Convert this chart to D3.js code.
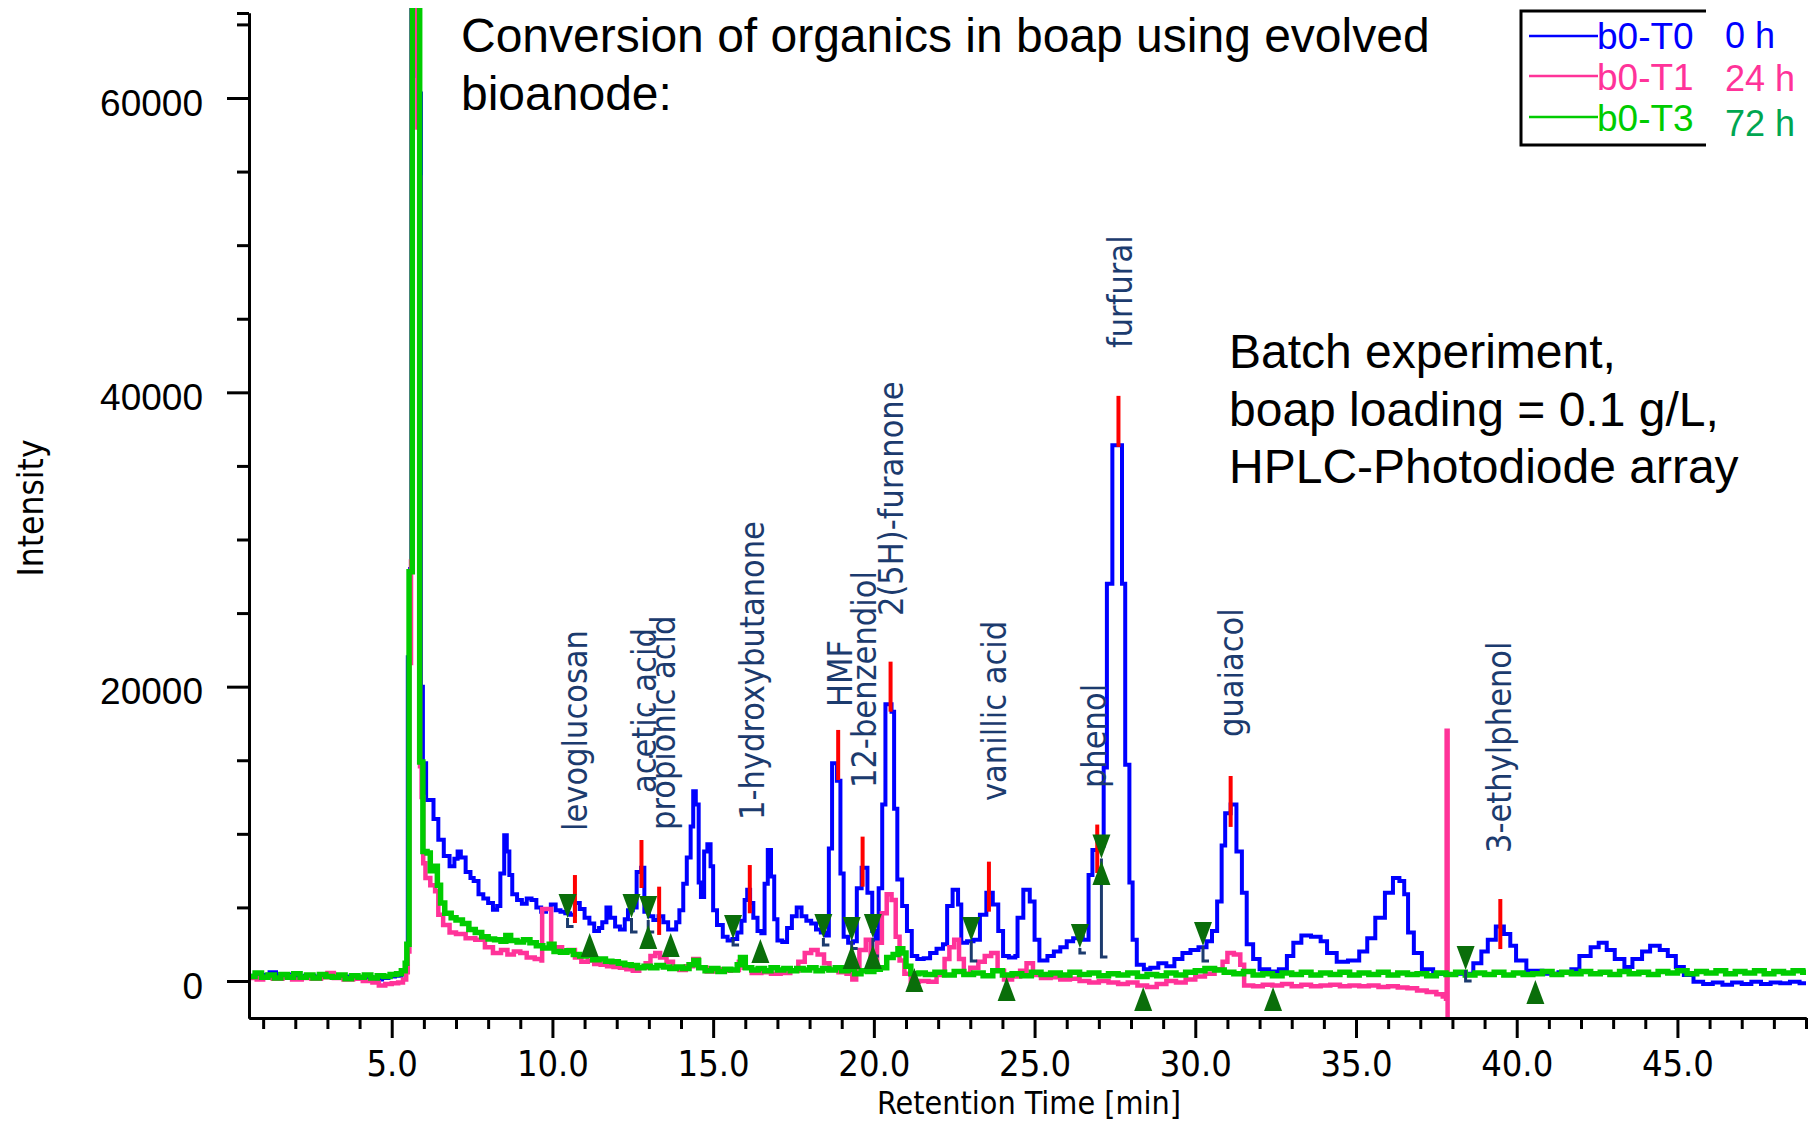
<!DOCTYPE html>
<html><head><meta charset="utf-8">
<script src="https://cdn.jsdelivr.net/npm/d3@7"></script>
<style>
html,body{margin:0;padding:0;background:#fff;}
svg{display:block;}
</style></head><body>
<svg id="chart" width="1810" height="1122"></svg>
<script>
// ---------------- DATA ----------------
const seriesNames = ["b0-T0", "b0-T1", "b0-T3"];
const durationLabels = ["0 h", "24 h", "72 h"];
const xTickValues = [5, 10, 15, 20, 25, 30, 35, 40, 45];
const xTickLabels = ["5.0", "10.0", "15.0", "20.0", "25.0", "30.0", "35.0", "40.0", "45.0"];
const yTickValues = [0, 20000, 40000, 60000];
const yTickLabels = ["0", "20000", "40000", "60000"];
const yMinorTicks = [5000, 10000, 15000, 25000, 30000, 35000, 45000, 50000, 55000, 65000];
const xDomain = [0.56, 49.0];
const yDomain = [-2514, 65775];

// b0-T0 (0 h) trace: [retention time, intensity]
const traceT0 = [
[0.56,350],[0.8,250],[1.0,420],[1.2,600],[1.4,380],[1.6,300],[1.8,450],[2.0,250],[2.3,350],[2.6,280],[2.9,400],[3.2,200],[3.5,300],[3.8,150],[4.1,250],[4.4,100],[4.7,200],[4.9,300],[5.1,350],[5.3,500],[5.42,900],[5.47,1500],
[5.50,22000],[5.57,28000],[5.61,67000],[5.73,63700],[5.80,61500],[5.86,60300],[5.91,20000],[5.97,14800],[6.07,12300],[6.30,11000],[6.45,9600],[6.62,8500],[6.80,7800],[6.95,8300],[7.05,8800],[7.15,8400],[7.30,7400],[7.45,7000],[7.55,6800],[7.70,5900],[7.85,5600],[8.00,5300],[8.15,4850],[8.28,5100],[8.38,7300],[8.50,9900],[8.58,8800],[8.66,7200],[8.75,5900],[8.90,5500],[9.05,5250],[9.20,5600],[9.35,5500],[9.50,5000],[9.65,4700],[9.80,4900],[9.95,5200],[10.10,4800],[10.25,4700],[10.40,4600],[10.55,4500],[10.70,5300],[10.85,4900],[11.00,4300],[11.15,3900],[11.30,3400],[11.45,3600],[11.55,4000],[11.68,5000],[11.80,4300],[11.95,3700],[12.10,3500],[12.25,4200],[12.35,4800],[12.50,5000],[12.62,7400],[12.76,7700],[12.86,4700],[13.00,4400],[13.14,4150],[13.30,4400],[13.45,4000],[13.60,3500],[13.75,3500],[13.85,4000],[13.95,4800],[14.07,6600],[14.18,8400],[14.30,10500],[14.38,12900],[14.46,12000],[14.55,6700],[14.62,5700],[14.72,8800],[14.82,9300],[14.92,7800],[15.00,4800],[15.12,3800],[15.30,3000],[15.45,2750],[15.60,2850],[15.75,3300],[15.88,4100],[15.98,5500],[16.06,6200],[16.15,5300],[16.25,4300],[16.38,3400],[16.50,3250],[16.60,6600],[16.70,8900],[16.80,7100],[16.90,4200],[17.00,2750],[17.15,2650],[17.30,3600],[17.45,4400],[17.60,5000],[17.75,4400],[17.90,4100],[18.05,3900],[18.20,3500],[18.35,3300],[18.50,3100],[18.60,9000],[18.70,14800],[18.85,13600],[18.96,7300],[19.06,3000],[19.20,2600],[19.35,2700],[19.47,6300],[19.62,7700],[19.80,6000],[19.95,3400],[20.05,2800],[20.15,6300],[20.26,12000],[20.36,18800],[20.55,18300],[20.63,11700],[20.73,6900],[20.88,5100],[21.03,3400],[21.18,1700],[21.35,1500],[21.55,1550],[21.75,1900],[21.95,2200],[22.15,2500],[22.28,5100],[22.45,6200],[22.62,5200],[22.72,2600],[22.90,2700],[23.10,2800],[23.30,4500],[23.50,6000],[23.70,5200],[23.87,3400],[24.02,1700],[24.20,1600],[24.40,1700],[24.47,4300],[24.65,6200],[24.85,5400],[25.00,2800],[25.15,1400],[25.40,1700],[25.60,2000],[25.80,2300],[26.00,2700],[26.20,2900],[26.35,3000],[26.50,2800],[26.68,7200],[26.80,8900],[27.00,9200],[27.15,14500],[27.25,27000],[27.42,36400],[27.72,27000],[27.82,14700],[27.95,6700],[28.05,2800],[28.18,1100],[28.40,800],[28.60,900],[28.85,1200],[29.10,1000],[29.35,1500],[29.60,1900],[29.85,2100],[30.10,2300],[30.35,2700],[30.52,3400],[30.68,5400],[30.82,9200],[30.93,11400],[31.10,12000],[31.28,8800],[31.45,6000],[31.60,2500],[31.80,1500],[32.00,800],[32.30,650],[32.60,800],[32.85,1700],[33.05,2600],[33.30,3100],[33.60,3000],[33.90,2700],[34.10,1900],[34.40,1300],[34.75,1400],[35.10,2000],[35.35,2900],[35.60,4300],[35.90,6000],[36.15,7000],[36.35,6800],[36.50,5900],[36.62,3300],[36.80,1900],[37.05,800],[37.40,500],[37.80,400],[38.10,500],[38.40,500],[38.65,1200],[38.90,2000],[39.10,2800],[39.35,3700],[39.60,3200],[39.80,2400],[39.98,1400],[40.30,700],[40.80,500],[41.30,600],[41.70,800],[41.95,1700],[42.30,2300],[42.55,2600],[42.80,2100],[43.05,1500],[43.35,950],[43.60,1500],[43.90,2000],[44.15,2400],[44.45,2100],[44.70,1700],[44.95,950],[45.20,400],[45.50,-50],[45.80,-200],[46.10,-100],[46.40,-250],[46.70,-100],[47.00,-200],[47.30,-50],[47.60,-200],[47.90,-100],[48.20,-150],[48.50,-50],[48.80,-150],[49.0,-100]
];

// b0-T1 (24 h) trace
const traceT1 = [
[0.56,200],[0.8,100],[1.0,250],[1.3,150],[1.6,300],[1.9,100],[2.2,200],[2.5,150],[2.8,250],[3.0,550],[3.2,200],[3.5,100],[3.8,150],[4.1,0],[4.4,-100],[4.6,-300],[4.8,-200],[5.0,-150],[5.2,-100],[5.35,100],[5.45,600],
[5.50,2000],[5.55,21600],[5.60,28500],[5.63,67000],[5.72,62000],[5.80,58000],[5.86,54600],[5.88,14600],[5.93,12500],[5.98,8000],[6.05,7000],[6.20,6500],[6.35,6100],[6.45,4500],[6.60,3800],[6.80,3300],[7.00,3200],[7.30,2900],[7.60,2800],[7.90,2300],[8.15,1900],[8.40,2100],[8.60,1800],[8.80,2000],[9.00,1900],[9.20,1600],[9.45,1500],[9.66,1400],[9.68,4900],[9.96,2300],[10.10,2300],[10.30,2000],[10.50,2100],[10.70,1600],[10.90,1300],[11.10,1400],[11.30,1150],[11.50,1100],[11.70,1000],[11.90,950],[12.10,900],[12.30,800],[12.50,700],[12.70,900],[12.90,1200],[13.05,1700],[13.20,1900],[13.35,1600],[13.55,1300],[13.75,900],[13.95,750],[14.15,1000],[14.38,1500],[14.55,900],[14.80,650],[15.05,800],[15.30,700],[15.55,750],[15.80,1300],[15.95,900],[16.20,550],[16.50,600],[16.80,500],[17.10,550],[17.40,700],[17.65,1300],[17.85,1900],[18.05,2100],[18.25,1800],[18.45,1200],[18.62,750],[18.90,600],[19.15,500],[19.33,100],[19.45,1000],[19.55,2100],[19.75,2800],[19.90,1500],[19.98,900],[20.10,2600],[20.25,4600],[20.40,5900],[20.55,5500],[20.68,3000],[20.80,1400],[20.95,500],[21.15,-50],[21.40,0],[21.70,-50],[21.95,400],[22.20,1500],[22.35,2300],[22.50,2800],[22.65,1500],[22.80,500],[23.00,900],[23.25,1300],[23.45,1700],[23.65,1900],[23.85,700],[24.05,100],[24.30,300],[24.55,700],[24.75,1200],[24.95,400],[25.20,200],[25.50,250],[25.80,100],[26.10,150],[26.40,0],[26.70,-100],[27.00,0],[27.30,-100],[27.60,-200],[27.90,-100],[28.20,-300],[28.50,-400],[28.80,-200],[29.10,0],[29.40,-100],[29.70,100],[30.00,300],[30.30,500],[30.60,800],[30.85,1300],[31.00,1900],[31.20,1800],[31.40,1100],[31.52,-300],[31.80,-350],[32.10,-250],[32.40,-300],[32.70,-200],[33.00,-350],[33.30,-250],[33.60,-350],[33.90,-300],[34.20,-250],[34.50,-350],[34.80,-300],[35.10,-350],[35.40,-300],[35.70,-400],[36.00,-350],[36.30,-450],[36.60,-500],[36.90,-650],[37.20,-750],[37.50,-900],[37.70,-1050],[37.80,-1200],[37.82,17000],[37.85,-2600]
];

// b0-T3 (72 h) trace
const traceT3 = [
[0.56,300],[0.75,550],[0.95,250],[1.15,400],[1.35,200],[1.55,450],[1.75,250],[1.95,500],[2.15,250],[2.35,400],[2.55,200],[2.75,450],[2.95,300],[3.15,250],[3.35,400],[3.55,150],[3.75,350],[3.95,250],[4.15,400],[4.35,200],[4.55,350],[4.75,300],[4.95,450],[5.15,500],[5.30,700],[5.42,1200],[5.47,2500],
[5.54,27800],[5.64,67000],[5.87,14880],[5.97,8800],[6.10,8700],[6.20,7500],[6.32,7800],[6.42,6500],[6.52,5300],[6.65,4600],[6.85,4300],[7.00,4150],[7.20,3900],[7.40,3500],[7.60,3300],[7.80,3000],[8.00,2850],[8.20,2800],[8.40,2700],[8.55,3100],[8.70,2750],[8.90,2650],[9.10,2800],[9.30,2600],[9.50,2400],[9.70,2250],[9.90,2500],[10.05,2000],[10.25,1950],[10.45,2050],[10.65,1800],[10.85,1700],[11.05,1750],[11.25,1450],[11.45,1500],[11.65,1350],[11.85,1300],[12.05,1200],[12.25,1100],[12.45,1050],[12.65,900],[12.85,1000],[13.05,900],[13.25,1050],[13.45,950],[13.65,850],[13.85,950],[14.05,850],[14.25,1100],[14.40,1400],[14.55,900],[14.75,700],[14.95,850],[15.15,650],[15.35,800],[15.55,750],[15.75,1100],[15.85,1600],[16.00,900],[16.20,750],[16.40,850],[16.60,700],[16.80,900],[17.00,750],[17.20,850],[17.40,700],[17.60,850],[17.80,750],[18.00,900],[18.20,700],[18.40,850],[18.60,750],[18.80,900],[19.00,700],[19.20,800],[19.40,500],[19.60,700],[19.80,650],[20.00,800],[20.20,900],[20.40,1600],[20.60,1800],[20.75,2200],[20.90,1900],[21.00,1000],[21.15,500],[21.40,550],[21.60,450],
[21.9,600],[22.2,400],[22.5,650],[22.8,450],[23.1,550],[23.4,350],[23.7,700],[24.0,400],[24.3,500],[24.6,350],[24.9,600],[25.2,450],[25.5,550],[25.8,400],[26.1,600],[26.4,450],[26.7,550],[27.0,350],[27.3,500],[27.6,400],[27.9,550],[28.2,300],[28.5,450],[28.8,350],[29.1,550],[29.4,400],[29.7,600],[30.0,700],[30.3,850],[30.6,750],[30.9,600],[31.2,500],[31.5,650],[31.8,400],[32.1,500],[32.4,350],[32.7,550],[33.0,450],[33.3,600],[33.6,400],[33.9,550],[34.2,450],[34.5,600],[34.8,400],[35.1,550],[35.4,450],[35.7,600],[36.0,400],[36.3,550],[36.6,450],[36.9,500],[37.2,350],[37.5,550],[37.8,450],[38.1,600],[38.4,400],[38.7,550],[39.0,450],[39.3,600],[39.6,400],[39.9,550],[40.2,450],[40.5,500],[40.8,650],[41.1,450],[41.4,600],[41.7,500],[42.0,650],[42.3,500],[42.6,600],[42.9,450],[43.2,650],[43.5,500],[43.8,600],[44.1,450],[44.4,650],[44.7,550],[45.0,700],[45.3,500],[45.6,650],[45.9,550],[46.2,700],[46.5,500],[46.8,650],[47.1,550],[47.4,700],[47.7,500],[48.0,650],[48.3,550],[48.6,700],[48.9,600],[49.0,600]
];

// compound names and label anchors [time, intensity] (bottom of rotated label)
const compoundNames = ["levoglucosan","acetic acid","propionic acid","1-hydroxybutanone","HMF","12-benzendiol","2(5H)-furanone","vanillic acid","phenol","furfural","guaiacol","3-ethylphenol"];
const labelAnchors = [[11.07,10190],[13.22,12770],[13.81,10260],[16.58,10940],[19.32,18620],[20.07,13110],[20.91,24800],[24.11,12230],[27.22,13110],[28.03,43010],[31.48,16580],[39.82,8700]];
// peak apex markers [time, top, bottom]
const peakMarks = [[10.70,7200,3940],[12.77,9580,6320],[13.32,6410,3130],[16.14,7880,4600],[18.89,17060,13660],[19.65,9810,6410],[20.52,21700,18300],[23.58,8110,4710],[26.95,10630,7340],[27.61,39760,36290],[31.10,13930,10470],[39.49,5570,2170]];
// peak start (down triangles) and end (up triangles): [time, tip intensity]
const peakStarts = [[10.47,4280],[12.46,4280],[12.98,4150],[15.62,2850],[18.43,2920],[19.31,2720],[19.97,2920],[23.03,2720],[26.41,2240],[27.08,8330],[30.24,2380],[38.41,750]];
const peakEnds = [[11.16,3260],[12.98,3810],[13.68,3260],[16.47,2850],[19.31,2450],[19.97,2450],[21.26,880],[24.13,270],[27.08,8150],[28.38,-410],[32.42,-410],[40.58,70]];
// baseline drop lines [time, top, bottom]
const baselineDrops = [[10.47,4280,3700],[12.46,4280,3330],[12.98,4150,3330],[15.62,2850,2450],[18.43,2920,2450],[19.31,2720,2200],[19.97,2920,1700],[23.03,2720,1360],[26.41,2240,1900],[27.08,8330,1630],[30.24,2380,1360],[38.41,750,0]];

const titleLines = ["Conversion of organics in boap using evolved", "bioanode:"];
const noteLines = ["Batch experiment,", "boap loading = 0.1 g/L,", "HPLC-Photodiode array"];

// ---------------- DRAW ----------------
const svg = d3.select("#chart");
const COND = '"DejaVu Sans Condensed","DejaVu Sans",sans-serif';
const ARIAL = '"Liberation Sans",Arial,sans-serif';
const colors = ["#0000ff", "#ff3399", "#00cc00"];
const durColors = ["#0000ff", "#ff3399", "#00a651"];
const navy = "#1c3b6e";
const triColor = "#0a6e0a";

const x = d3.scaleLinear().domain(xDomain).range([249, 1806]);
const y = d3.scaleLinear().domain(yDomain).range([1018, 13]);

svg.append("defs").append("clipPath").attr("id", "plotclip")
  .append("rect").attr("x", 249).attr("y", 8).attr("width", 1806 - 249).attr("height", 1018 - 8);

const plot = svg.append("g").attr("clip-path", "url(#plotclip)");
const line = d3.line().x(d => x(d[0])).y(d => y(d[1])).curve(d3.curveStepAfter);

[traceT0, traceT1, traceT3].forEach((tr, i) => {
  plot.append("path").datum(tr).attr("d", line)
    .attr("fill", "none").attr("stroke", colors[i])
    .attr("stroke-width", [4, 4.5, 5.5][i]).attr("stroke-linejoin", "miter");
});

// baseline drop lines
const drops = plot.append("g").attr("stroke", navy).attr("stroke-width", 3).attr("fill", "none");
drops.selectAll("path").data(baselineDrops).join("path")
  .attr("d", d => `M${x(d[0])},${y(d[1])}V${y(d[2])}h6`);

// peak apex marks
plot.append("g").selectAll("line").data(peakMarks).join("line")
  .attr("x1", d => x(d[0])).attr("x2", d => x(d[0]))
  .attr("y1", d => y(d[1])).attr("y2", d => y(d[2]))
  .attr("stroke", "#ff0000").attr("stroke-width", 4);

// triangles
const triW = 9, triH = 24;
plot.append("g").selectAll("path").data(peakStarts).join("path")
  .attr("d", d => { const cx = x(d[0]), ty = y(d[1]); return `M${cx - triW},${ty - triH}L${cx + triW},${ty - triH}L${cx},${ty}Z`; })
  .attr("fill", triColor);
plot.append("g").selectAll("path").data(peakEnds).join("path")
  .attr("d", d => { const cx = x(d[0]), ty = y(d[1]); return `M${cx - triW},${ty + triH}L${cx + triW},${ty + triH}L${cx},${ty}Z`; })
  .attr("fill", triColor);

// compound labels
svg.append("g").selectAll("text").data(compoundNames).join("text")
  .attr("transform", (d, i) => `translate(${x(labelAnchors[i][0])},${y(labelAnchors[i][1])}) rotate(-90)`)
  .attr("font-family", COND).attr("font-stretch", "condensed").attr("font-size", 34)
  .attr("fill", navy).text(d => d);

// axes
const xAxis = d3.axisBottom(x).tickValues(xTickValues).tickFormat((d, i) => xTickLabels[i])
  .tickSize(20).tickSizeOuter(0).tickPadding(12);
const xMinor = d3.axisBottom(x).tickValues(d3.range(1, 50).filter(v => v % 5 !== 0)).tickFormat("")
  .tickSize(11).tickSizeOuter(0);
const yAxis = d3.axisLeft(y).tickValues(yTickValues).tickFormat((d, i) => yTickLabels[i])
  .tickSize(22).tickSizeOuter(0).tickPadding(24);
const yMinor = d3.axisLeft(y).tickValues(yMinorTicks.concat([yDomain[1]])).tickFormat("")
  .tickSize(12).tickSizeOuter(0);

function styleAxis(g) {
  g.selectAll("path.domain").attr("stroke", "#000").attr("stroke-width", 3);
  g.selectAll(".tick line").attr("stroke", "#000").attr("stroke-width", 3);
}
const gx = svg.append("g").attr("transform", "translate(0,1018)").call(xAxis).call(styleAxis);
gx.selectAll("text").attr("font-family", COND).attr("font-stretch", "condensed").attr("font-size", 36).attr("fill", "#000");
svg.append("g").attr("transform", "translate(0,1018)").call(xMinor).call(styleAxis);
const gy = svg.append("g").attr("transform", "translate(249,0)").call(yAxis).call(styleAxis);
gy.selectAll("text").attr("font-family", ARIAL).attr("font-size", 37).attr("fill", "#000").attr("dy", "0.46em");
svg.append("g").attr("transform", "translate(249,0)").call(yMinor).call(styleAxis);

// axis titles
svg.append("text").attr("x", 1029).attr("y", 1114).attr("text-anchor", "middle")
  .attr("font-family", COND).attr("font-stretch", "condensed").attr("font-size", 32).text("Retention Time [min]");
svg.append("text").attr("transform", "translate(43,508) rotate(-90)").attr("text-anchor", "middle")
  .attr("font-family", COND).attr("font-stretch", "condensed").attr("font-size", 35).text("Intensity");

// title + note
svg.append("g").selectAll("text").data(titleLines).join("text")
  .attr("x", 461).attr("y", (d, i) => 52 + i * 58)
  .attr("font-family", ARIAL).attr("font-size", 48).attr("fill", "#000").text(d => d);
svg.append("g").selectAll("text").data(noteLines).join("text")
  .attr("x", 1229).attr("y", (d, i) => 368 + i * 57.5)
  .attr("font-family", ARIAL).attr("font-size", 48).attr("fill", "#000").text(d => d);

// legend
const lg = svg.append("g");
lg.append("path").attr("d", "M1706,11H1521V145H1706").attr("fill", "none").attr("stroke", "#000").attr("stroke-width", 3);
seriesNames.forEach((nm, i) => {
  const ly = [36, 76, 117][i];
  lg.append("line").attr("x1", 1529).attr("x2", 1598).attr("y1", ly).attr("y2", ly)
    .attr("stroke", colors[i]).attr("stroke-width", 2.5);
  lg.append("text").attr("x", 1597).attr("y", [49, 90, 131][i]).attr("font-family", ARIAL)
    .attr("font-size", 37).attr("fill", colors[i]).text(nm);
  lg.append("text").attr("x", 1725).attr("y", [48, 91, 136][i]).attr("font-family", ARIAL)
    .attr("font-size", 36).attr("fill", durColors[i]).text(durationLabels[i]);
});
</script>
</body></html>
